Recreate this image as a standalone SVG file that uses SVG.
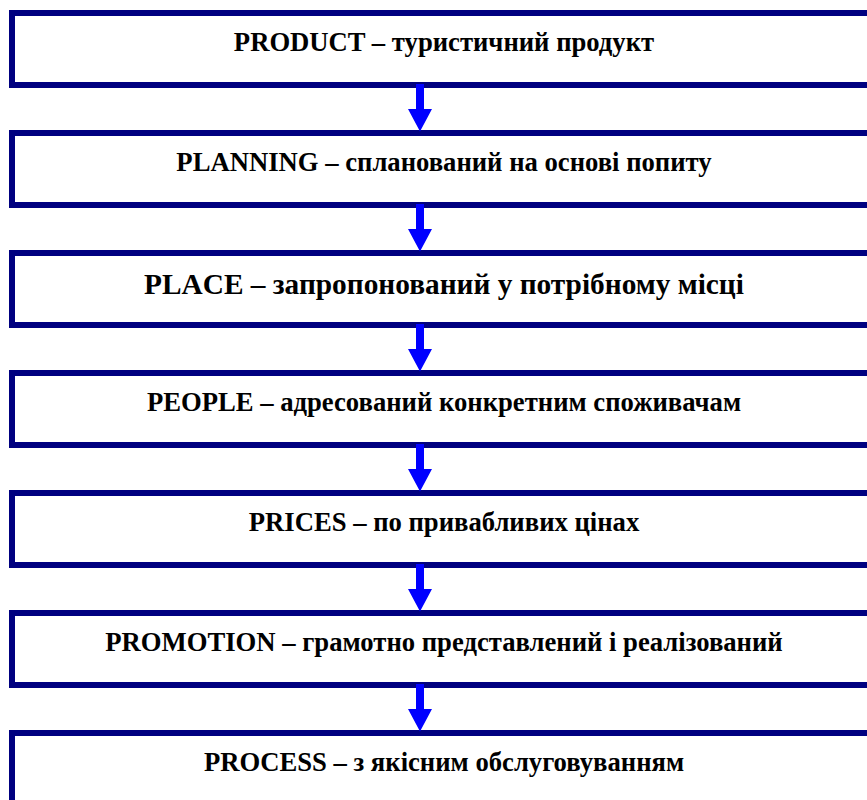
<svg xmlns="http://www.w3.org/2000/svg" width="867" height="800" viewBox="0 0 867 800">
<defs>
<style>
.box{fill:#fff;stroke:#000080;stroke-width:6}
.t{font-weight:bold;fill:#000;text-anchor:middle}
.arr{fill:#0000ff}
</style>
<path id="ar" class="arr" d="M416,84 H424 V109 H432 L420,131.5 L408,109 H416 Z"/>
</defs>
<rect width="867" height="800" fill="#fff"/>
<g font-family="Liberation Serif, serif" font-size="26.67">
<g id="n1"><rect class="box" x="12" y="13" width="880" height="72"/><text class="t" x="444" y="51">PRODUCT – туристичний продукт</text></g>
<g id="n2"><rect class="box" x="12" y="133" width="880" height="72"/><text class="t" x="444" y="171">PLANNING – спланований на основі попиту</text></g>
<g id="n3"><rect class="box" x="12" y="253" width="880" height="72"/><text class="t" x="444" y="294" font-size="29.33">PLACE – запропонований у потрібному місці</text></g>
<g id="n4"><rect class="box" x="12" y="373" width="880" height="72"/><text class="t" x="444" y="411">PEOPLE – адресований конкретним споживачам</text></g>
<g id="n5"><rect class="box" x="12" y="493" width="880" height="72"/><text class="t" x="444" y="531">PRICES – по привабливих цінах</text></g>
<g id="n6"><rect class="box" x="12" y="613" width="880" height="72"/><text class="t" x="444" y="651">PROMOTION – грамотно представлений і реалізований</text></g>
<g id="n7"><rect class="box" x="12" y="733" width="880" height="120"/><text class="t" x="444" y="771">PROCESS – з якісним обслуговуванням</text></g>
</g>
<g id="connectors">
<use href="#ar"/>
<use href="#ar" y="120"/>
<use href="#ar" y="240"/>
<use href="#ar" y="360"/>
<use href="#ar" y="480"/>
<use href="#ar" y="600"/>
</g>
</svg>
